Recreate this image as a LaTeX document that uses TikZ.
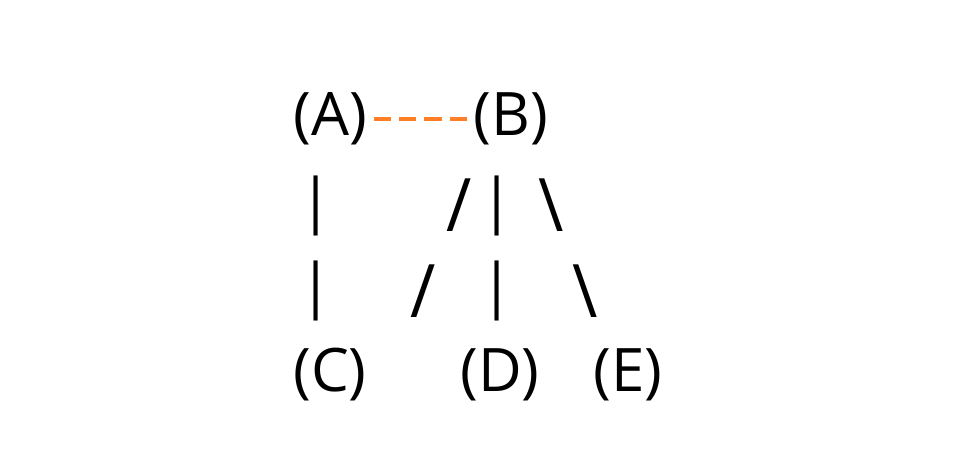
\documentclass[tikz,border=0pt]{standalone}
\usepackage{fontspec}
\setmainfont{Open Sans}
\usetikzlibrary{positioning}
\definecolor{linkorange}{RGB}{255,127,39}
\newcommand{\tallglyph}[1]{\scalebox{1.15}[1.23]{#1}}
\begin{document}
\begin{tikzpicture}[x=0.75pt,y=-0.75pt]
	
	\tikzset{glyph/.style={
			inner sep=0pt,
			anchor=center,
			font=\fontsize{45}{54}\selectfont
		},
		link/.style={
			draw=linkorange,
			line width=3pt,
			dash pattern=on 13pt off 6pt,
			shorten <=5pt, shorten >=3.75pt
		}
	}
	
	\useasboundingbox (0,0) rectangle (964,463);
	
	\node[glyph] (a) at (330,119) {(A)};
	\node[glyph] (b) at (511,119) {(B)};
	\node[glyph] (c) at (330,375) {(C)};
	\node[glyph] (d) at (500,375) {(D)};
	\node[glyph] (e) at (628,375) {(E)};
	
	\node[glyph] (ac1) at (316,206) {|};
	\node[glyph] (bc1) at (459,205) {\tallglyph{/}};
	\node[glyph] (bd1) at (497,206) {|};
	\node[glyph] (be1) at (551,205) {\tallglyph{\textbackslash}};
	
	\node[glyph] (ac2) at (316,291) {|};
	\node[glyph] (bc2) at (423,291) {\tallglyph{/}};
	\node[glyph] (bd2) at (497,291) {|};
	\node[glyph] (be2) at (585,291) {\tallglyph{\textbackslash}};
	
	\draw[link] (a) -- (b);
	
\end{tikzpicture}
\end{document}
